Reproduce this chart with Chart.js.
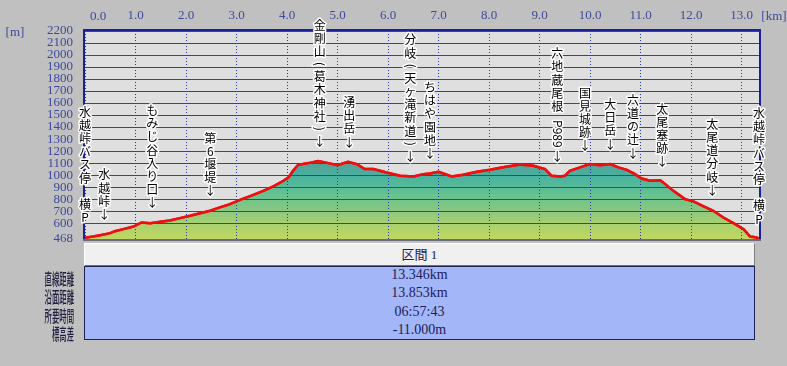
<!DOCTYPE html>
<html>
<head>
<meta charset="utf-8">
<script src="https://cdn.jsdelivr.net/npm/chart.js@4.4.1/dist/chart.umd.min.js"></script>
<style>
  body { margin: 0; background: #c0c0c0; }
  #wrap { position: relative; width: 787px; height: 366px; overflow: hidden; }
  #profile { position: absolute; left: 0; top: 0; }
  .head { position: absolute; left: 84px; top: 243px; width: 669px; height: 21px; background: #f0f0f0;
          border-top: 1px solid #fff; border-left: 1px solid #fff; border-right: 1px solid #808080; border-bottom: 2px solid #707070;
          text-align: center; line-height: 21px; font: 13px "Liberation Serif", "Noto Sans CJK JP"; color: #202058; }
  .box { position: absolute; left: 84px; top: 266px; width: 669px; height: 72px; background: #a3b6f7; border: 1px solid #202050; }
  .val { position: absolute; left: 0; width: 669px; height: 18px; line-height: 18px; text-align: center;
         font: 14px "Liberation Serif"; color: #202058; }
  .lbl { position: absolute; right: 713px; height: 18px; line-height: 18px; white-space: nowrap;
         font: 500 16px "Noto Sans CJK JP"; color: #202040; transform: scaleX(0.46); transform-origin: right center; }
</style>
</head>
<body>
<div id="wrap">
  <canvas id="profile" width="787" height="366"></canvas>
  <div class="head" id="head"></div>
  <div class="box" id="box"></div>
</div>
<script>
// profile
const distKm = [0, 0.16, 0.3, 0.5, 0.59, 0.76, 0.96, 1.12, 1.29, 1.49, 1.68, 1.88, 2.08, 2.28, 2.48, 2.67, 2.87,
  3.07, 3.27, 3.53, 3.73, 3.93, 4.03, 4.12, 4.22, 4.42, 4.62, 4.82, 5.0, 5.21, 5.38, 5.54, 5.71, 5.97,
  6.24, 6.5, 6.7, 6.83, 7.0, 7.26, 7.49, 7.76, 8.02, 8.25, 8.61, 8.88, 9.11, 9.24, 9.41, 9.5, 9.6, 9.8,
  10.0, 10.2, 10.4, 10.56, 10.73, 10.89, 11.02, 11.19, 11.39, 11.49, 11.65, 11.88, 12.05, 12.25, 12.44,
  12.64, 12.84, 13.04, 13.17, 13.3, 13.346];
const elevM = [479, 489, 500, 517, 533, 550, 572, 606, 600, 611, 622, 642, 661, 683, 703, 731, 758,
  794, 825, 869, 906, 953, 981, 1036, 1086, 1100, 1117, 1100, 1083, 1111, 1092, 1050, 1050, 1022,
  994, 989, 1008, 1014, 1028, 989, 1003, 1028, 1044, 1064, 1089, 1078, 1050, 994, 989, 994, 1036, 1064,
  1092, 1083, 1092, 1064, 1044, 1008, 972, 953, 958, 925, 869, 800, 781, 739, 703,
  647, 600, 550, 489, 481, 468];

const xTickKm = [0, 1, 2, 3, 4, 5, 6, 7, 8, 9, 10, 11, 12, 13];
const yTickM = [468, 600, 700, 800, 900, 1000, 1100, 1200, 1300, 1400, 1500, 1600, 1700, 1800, 1900, 2000, 2100, 2200];

// waypoints
const poiKm = [0, 0.38, 1.33, 2.48, 4.65, 5.23, 6.44, 6.83, 9.35, 9.9, 10.4, 10.85, 11.43, 12.42, 13.346];
const poiNames = ['水越峠バス停　横P', '水越峠↓', 'もみじ谷入り口↓', '第6堰堤↓', '金剛山(葛木神社)↓', '湧出岳↓',
  '分岐(天ヶ滝新道)↓', 'ちはや園地↓', '六地蔵尾根 P989↓', '国見城跡↓', '大日岳↓', '六道の辻↓',
  '太尾塞跡↓', '太尾道分岐↓', '水越峠バス停　横P'];

// summary table
const sectionName = '区間 1';
const tableHeads = ['直線距離', '沿面距離', '所要時間', '標高差'];
const tableValues = ['13.346km', '13.853km', '06:57:43', '-11.000m'];

// build table
document.getElementById('head').textContent = sectionName;
const box = document.getElementById('box');
const wrap = document.getElementById('wrap');
tableHeads.forEach((h, i) => {
  const v = document.createElement('div');
  v.className = 'val';
  v.style.top = (i * 18.3) + 'px';
  v.textContent = tableValues[i];
  box.appendChild(v);
  const l = document.createElement('div');
  l.className = 'lbl';
  l.style.top = (266 + i * 18.3) + 'px';
  l.textContent = h;
  wrap.appendChild(l);
});

function elevAt(km) {
  for (let i = 1; i < distKm.length; i++) {
    if (km <= distKm[i]) {
      const t = (km - distKm[i - 1]) / (distKm[i] - distKm[i - 1]);
      return elevM[i - 1] + t * (elevM[i] - elevM[i - 1]);
    }
  }
  return elevM[elevM.length - 1];
}

const tickColor = '#3d4a9c';
const tickFont = { family: 'Liberation Serif', size: 13 };

const bgPlugin = {
  id: 'bg',
  beforeDraw(chart) {
    const { ctx, chartArea: a } = chart;
    ctx.save();
    ctx.fillStyle = '#c0c0c0';
    ctx.fillRect(0, 0, chart.width, chart.height);
    ctx.fillStyle = '#dfdfdf';
    ctx.fillRect(a.left, a.top, a.right - a.left, a.bottom - a.top);
    ctx.restore();
  }
};

// vertical japanese labels: latin runs and brackets are turned sideways
function tokens(s) {
  return s.match(/[A-Za-z0-9]{2,}|./gu) || [];
}
function isSideways(t) {
  return t.length > 1 || t === '(' || t === ')';
}

const overlayPlugin = {
  id: 'overlay',
  afterDraw(chart) {
    const { ctx, chartArea: a, scales } = chart;
    const xs = scales.x, ys = scales.y;

    // red line back on top of the grid
    ctx.save();
    ctx.beginPath();
    ctx.rect(a.left, a.top - 2, a.right - a.left, a.bottom - a.top + 4);
    ctx.clip();
    chart.getDatasetMeta(0).dataset.draw(ctx);
    ctx.restore();

    // frame
    ctx.save();
    ctx.lineWidth = 2;
    ctx.strokeStyle = '#1a2098';
    ctx.beginPath();
    ctx.moveTo(a.left - 1, a.bottom);
    ctx.lineTo(a.left - 1, a.top - 1);
    ctx.lineTo(a.right + 1, a.top - 1);
    ctx.lineTo(a.right + 1, a.bottom);
    ctx.stroke();
    ctx.strokeStyle = '#6a6a80';
    ctx.beginPath();
    ctx.moveTo(a.left - 2, a.bottom + 1);
    ctx.lineTo(a.right + 2, a.bottom + 1);
    ctx.stroke();
    ctx.restore();

    // axis extras
    ctx.save();
    ctx.font = '13px "Liberation Serif"';
    ctx.fillStyle = tickColor;
    ctx.textBaseline = 'middle';
    ctx.textAlign = 'center';
    ctx.fillText('0.0', xs.getPixelForValue(0) + 13, 17);
    ctx.fillText('[km]', 774, 17);
    ctx.fillText('[m]', 15, 33);
    ctx.restore();

    // waypoint labels
    ctx.save();
    ctx.font = '12px "Noto Sans CJK JP"';
    ctx.textAlign = 'center';
    ctx.textBaseline = 'middle';
    ctx.lineJoin = 'round';
    ctx.lineWidth = 3;
    ctx.strokeStyle = '#ffffff';
    ctx.fillStyle = '#000000';
    poiNames.forEach((name, i) => {
      const x = xs.getPixelForValue(poiKm[i]);
      const bottom = ys.getPixelForValue(elevAt(poiKm[i])) - 20 + 6.6;
      const toks = tokens(name);
      const hs = toks.map(t => t.length > 1 ? ctx.measureText(t).width + 4 : (t === ' ' ? 5 : (isSideways(t) ? 12 : 13.2)));
      let y = bottom - hs.reduce((s, h) => s + h, 0);
      toks.forEach((t, k) => {
        const cy = y + hs[k] / 2;
        if (isSideways(t)) {
          ctx.save();
          ctx.translate(x, cy);
          ctx.rotate(Math.PI / 2);
          ctx.strokeText(t, 0, 0);
          ctx.fillText(t, 0, 0);
          ctx.restore();
        } else if (t.trim()) {
          ctx.strokeText(t, x, cy);
          ctx.fillText(t, x, cy);
        }
        y += hs[k];
      });
    });
    ctx.restore();
  }
};

function fillGradient(c) {
  const { ctx, chartArea, scales } = c.chart;
  if (!chartArea) return null;
  const y0 = scales.y.getPixelForValue(468);
  const y1 = scales.y.getPixelForValue(1120);
  const g = ctx.createLinearGradient(0, y0, 0, y1);
  g.addColorStop(0, '#c0d860');
  g.addColorStop(0.2, '#a8d070');
  g.addColorStop(0.355, '#8cc880');
  g.addColorStop(0.51, '#70c48c');
  g.addColorStop(0.66, '#58bc98');
  g.addColorStop(0.816, '#48b0a0');
  g.addColorStop(1, '#5a9c90');
  return g;
}

new Chart(document.getElementById('profile').getContext('2d'), {
  type: 'line',
  data: {
    datasets: [{
      data: distKm.map((d, i) => ({ x: d, y: elevM[i] })),
      borderColor: '#ee1010',
      borderWidth: 2.5,
      pointRadius: 0,
      tension: 0,
      fill: 'start',
      backgroundColor: fillGradient
    }]
  },
  options: {
    responsive: false,
    animation: false,
    layout: { padding: { left: 0, top: 0, right: 28, bottom: 127 } },
    plugins: { legend: { display: false }, tooltip: { enabled: false } },
    scales: {
      x: {
        type: 'linear',
        position: 'top',
        min: 0,
        max: 13.346,
        afterBuildTicks: s => { s.ticks = xTickKm.map(v => ({ value: v })); },
        afterFit: s => { s.height = 31; },
        ticks: {
          callback: v => v === 0 ? '' : v.toFixed(1),
          font: tickFont,
          color: tickColor,
          padding: 8,
          maxRotation: 0,
          autoSkip: false
        },
        grid: { color: '#2a34a8', lineWidth: 1, drawTicks: false, z: 1 },
        border: { display: false, dash: [1, 2] }
      },
      y: {
        min: 468,
        max: 2200,
        afterBuildTicks: s => { s.ticks = yTickM.map(v => ({ value: v })); },
        afterFit: s => { s.width = 85; },
        ticks: { callback: v => String(v), font: tickFont, color: tickColor, padding: 12, autoSkip: false },
        grid: { color: '#2d3dd0', lineWidth: 1, drawTicks: false, z: 1 },
        border: { display: false }
      }
    }
  },
  plugins: [bgPlugin, overlayPlugin]
});
</script>
</body>
</html>
